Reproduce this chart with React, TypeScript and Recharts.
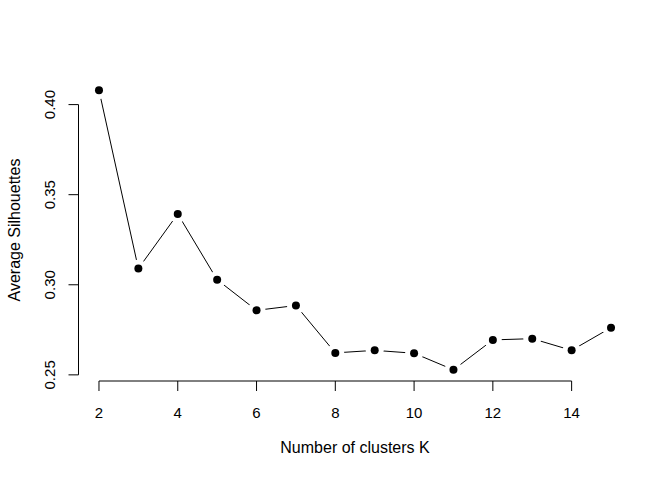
import { LineChart, Line, XAxis, YAxis, ReferenceLine } from 'recharts';

// silhouette widths, K = 2..15
const clusters = [2, 3, 4, 5, 6, 7, 8, 9, 10, 11, 12, 13, 14, 15];
const silhouettes = [0.408, 0.309, 0.3393, 0.3028, 0.2858, 0.2885, 0.2622, 0.2636, 0.262, 0.2528, 0.2694, 0.2701, 0.2636, 0.2762];
const xTicks = [2, 4, 6, 8, 10, 12, 14];
const yTicks = [0.25, 0.3, 0.35, 0.4];

const FONT = '"Liberation Sans", Arial, Helvetica, sans-serif';

const data = clusters.map((k, i) => ({ k, sil: silhouettes[i] }));

// R-style 4% padding around the data range
const pad = (lo: number, hi: number): [number, number] => {
  const d = (hi - lo) * 0.04;
  return [lo - d, hi + d];
};
const xDomain = pad(Math.min(...clusters), Math.max(...clusters));
const yDomain = pad(Math.min(...silhouettes), Math.max(...silhouettes));

const XTick = ({ x, y, payload }: any) => (
  <g>
    <line x1={x} x2={x} y1={y} y2={y + 10} stroke="#000" />
    <text x={x} y={y + 31} textAnchor="middle" dominantBaseline="central"
      fontFamily={FONT} fontSize={15} fill="#000">{payload.value}</text>
  </g>
);

const YTick = ({ x, y, payload }: any) => (
  <g>
    <line x1={x - 10} x2={x} y1={y} y2={y} stroke="#000" />
    <text x={x - 28.5} y={y} textAnchor="middle" dominantBaseline="central"
      transform={`rotate(-90 ${x - 28.5} ${y})`}
      fontFamily={FONT} fontSize={15} fill="#000">{Number(payload.value).toFixed(2)}</text>
  </g>
);

const Dot = ({ cx, cy, index }: any) => (
  <g key={`d${index}`}>
    <circle cx={cx} cy={cy} r={9} fill="#fff" />
    <circle cx={cx} cy={cy} r={4} fill="#000" />
  </g>
);

export default function App() {
  return (
    <div style={{ position: 'absolute', left: 0, top: 0, background: '#fff' }}>
      <LineChart width={672} height={480} data={data}
        margin={{ top: 79, right: 40.5, bottom: 0, left: 0 }}>
        <XAxis
          dataKey="k" type="number" domain={xDomain} ticks={xTicks}
          height={99} axisLine={false} tickLine={false} tickSize={0} tickMargin={0}
          tick={<XTick />} allowDataOverflow
          label={{
            content: ({ viewBox }: any) => (
              <text x={viewBox.x + viewBox.width / 2} y={viewBox.y + 66}
                textAnchor="middle" dominantBaseline="central"
                fontFamily={FONT} fontSize={16} fill="#000">Number of clusters K</text>
            ),
          }}
        />
        <YAxis
          type="number" domain={yDomain} ticks={yTicks}
          width={78.5} axisLine={false} tickLine={false} tickSize={0} tickMargin={0}
          tick={<YTick />} allowDataOverflow
          label={{
            content: ({ viewBox }: any) => {
              const cy = viewBox.y + viewBox.height / 2;
              return (
                <text x={14} y={cy} textAnchor="middle" dominantBaseline="central"
                  transform={`rotate(-90 14 ${cy})`}
                  fontFamily={FONT} fontSize={16} fill="#000">Average Silhouettes</text>
              );
            },
          }}
        />
        <ReferenceLine ifOverflow="visible" stroke="#000"
          segment={[{ x: xTicks[0], y: yDomain[0] }, { x: xTicks[xTicks.length - 1], y: yDomain[0] }]} />
        <ReferenceLine ifOverflow="visible" stroke="#000"
          segment={[{ x: xDomain[0], y: yTicks[0] }, { x: xDomain[0], y: yTicks[yTicks.length - 1] }]} />
        <Line type="linear" dataKey="sil" stroke="#000" strokeWidth={1}
          dot={Dot} activeDot={false} isAnimationActive={false} />
      </LineChart>
    </div>
  );
}
